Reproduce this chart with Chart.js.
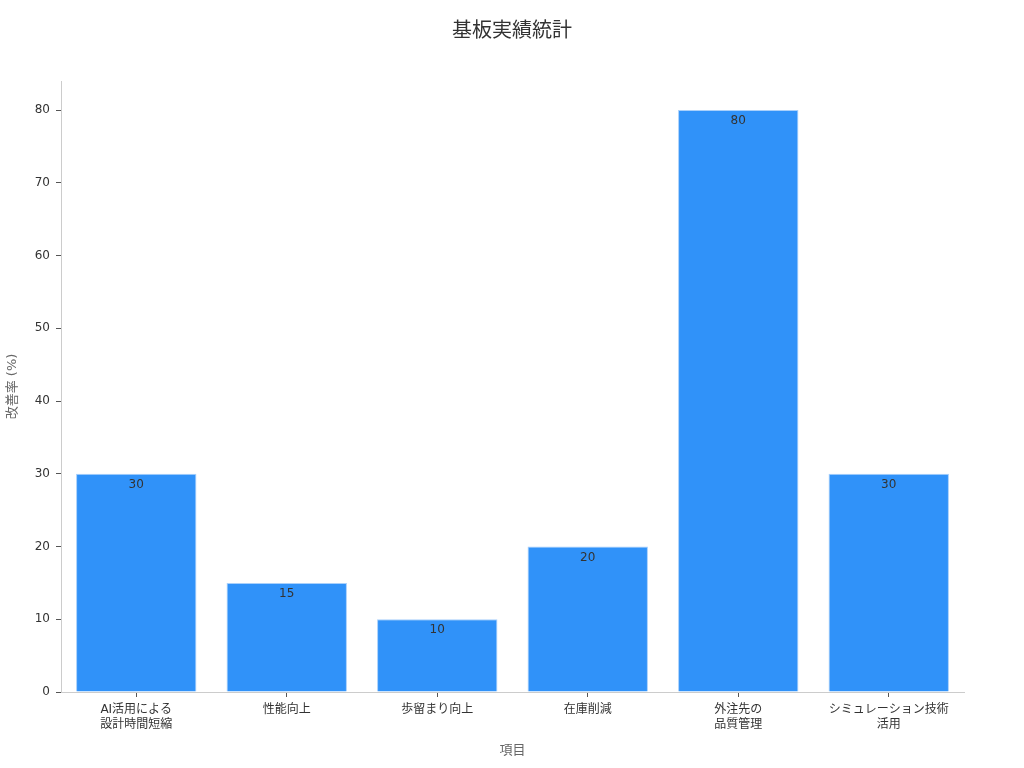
<!DOCTYPE html>
<html>
<head>
<meta charset="utf-8">
<script src="https://cdn.jsdelivr.net/npm/chart.js@4/dist/chart.umd.min.js"></script>
<style>
  html, body { margin: 0; padding: 0; background: #fff; }
  #wrap { width: 1024px; height: 768px; }
</style>
</head>
<body>
<div id="wrap"><canvas id="barChart" width="1024" height="768"></canvas></div>
<script>
const categories = [
    ['AI活用による', '設計時間短縮'],
    '性能向上',
    '歩留まり向上',
    '在庫削減',
    ['外注先の', '品質管理'],
    ['シミュレーション技術', '活用']
];
const improvementRates = [30, 15, 10, 20, 80, 30];
const yTicks = [0, 10, 20, 30, 40, 50, 60, 70, 80];
const chartTitle = '基板実績統計';

const FONT = '"DejaVu Sans", "Noto Sans CJK JP", sans-serif';

// value text just under the top of each bar
const valueLabels = {
    id: 'valueLabels',
    afterDatasetsDraw(chart) {
        const ctx = chart.ctx;
        const meta = chart.getDatasetMeta(0);
        ctx.save();
        ctx.font = '12px ' + FONT;
        ctx.fillStyle = '#333333';
        ctx.textAlign = 'center';
        ctx.textBaseline = 'middle';
        meta.data.forEach((bar, i) => {
            ctx.fillText(String(improvementRates[i]), bar.x, bar.y + 11);
        });
        ctx.restore();
    }
};

// title centred on the whole canvas, not on the plot box
const pageTitle = {
    id: 'pageTitle',
    afterDraw(chart) {
        const ctx = chart.ctx;
        ctx.save();
        ctx.font = '20px ' + FONT;
        ctx.fillStyle = '#333333';
        ctx.textAlign = 'center';
        ctx.textBaseline = 'middle';
        ctx.fillText(chartTitle, chart.width / 2, 32);
        ctx.restore();
    }
};

let barChart;

function initChart() {
    const ctx = document.getElementById('barChart').getContext('2d');

    barChart = new Chart(ctx, {
        type: 'bar',
        data: {
            labels: categories,
            datasets: [{
                label: '改善率 (%)',
                data: improvementRates,
                backgroundColor: '#3092f9',
                borderColor: '#a9d0fb',
                borderWidth: 1,
                categoryPercentage: 0.8,
                barPercentage: 1.0
            }]
        },
        options: {
            responsive: false,
            animation: false,
            devicePixelRatio: 1,
            layout: {
                padding: { top: 81, right: 60, bottom: 10, left: 0 }
            },
            plugins: {
                legend: { display: false },
                tooltip: { enabled: false },
                title: { display: false }
            },
            scales: {
                x: {
                    offset: true,
                    grid: {
                        display: true,
                        offset: false,
                        drawOnChartArea: false,
                        drawTicks: true,
                        tickLength: 5,
                        color: '#555555'
                    },
                    border: { color: '#cccccc', width: 1 },
                    ticks: {
                        color: '#333333',
                        font: { family: FONT, size: 12 },
                        maxRotation: 0,
                        autoSkip: false,
                        padding: 6
                    },
                    title: {
                        display: true,
                        text: '項目',
                        color: '#666666',
                        font: { family: FONT, size: 13 },
                        padding: { top: 7, bottom: 0 }
                    },
                    afterFit(scale) { scale.height = 66; }
                },
                y: {
                    min: 0,
                    max: 84,
                    afterBuildTicks(scale) {
                        scale.ticks = yTicks.map(v => ({ value: v }));
                    },
                    grid: {
                        display: true,
                        drawOnChartArea: false,
                        drawTicks: true,
                        tickLength: 5,
                        color: '#555555'
                    },
                    border: { color: '#cccccc', width: 1 },
                    ticks: {
                        color: '#333333',
                        font: { family: FONT, size: 12 },
                        padding: 6
                    },
                    title: {
                        display: true,
                        text: '改善率 (%)',
                        color: '#666666',
                        font: { family: FONT, size: 13 },
                        padding: { top: 5, bottom: 5 }
                    },
                    afterFit(scale) { scale.width = 61; }
                }
            }
        },
        plugins: [valueLabels, pageTitle]
    });
}

window.addEventListener('DOMContentLoaded', initChart);
</script>
</body>
</html>
